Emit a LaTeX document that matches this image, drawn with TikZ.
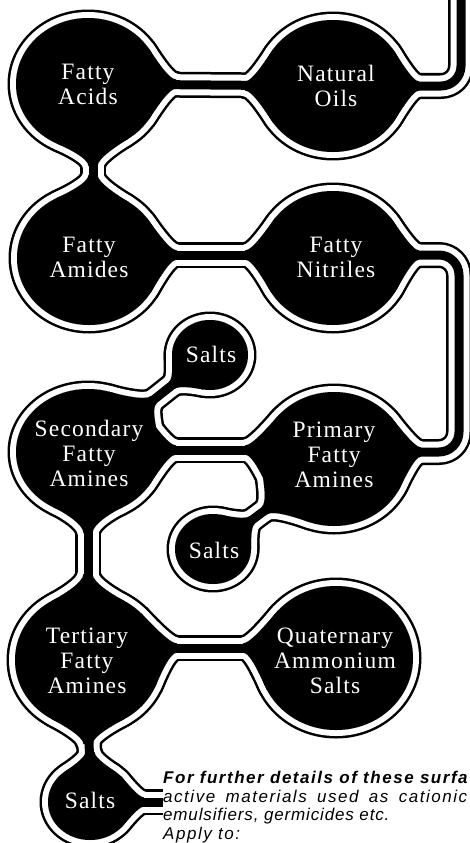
\documentclass[tikz,border=0pt]{standalone}
\usepackage{fontspec}
\setmainfont{Liberation Serif}
\newfontfamily\lblfont[LetterSpace=5]{Liberation Serif}
\newfontfamily\notefont[LetterSpace=9]{Liberation Sans}
\def\fh{4.5}
% flare: cx cy rx ry phi e delta k
\newcommand\flare[8]{%
\pgfmathsetmacro\fdz{(#3)*(#4)/sqrt(((#4)*cos(#5))^2+((#3)*sin(#5))^2)}%
\pgfmathsetmacro\fbe{atan((#6)/\fdz)}%
\pgfmathsetmacro\fpa{(#5)+\fbe+(#7)}%
\pgfmathsetmacro\fpb{(#5)+\fbe-(#7)}%
\pgfmathsetmacro\fra{(#3)*(#4)/sqrt(((#4)*cos(\fpa))^2+((#3)*sin(\fpa))^2)}%
\pgfmathsetmacro\frb{(#3)*(#4)/sqrt(((#4)*cos(\fpb))^2+((#3)*sin(\fpb))^2)}%
\pgfmathsetmacro\fax{\fra*cos(\fpa)}%
\pgfmathsetmacro\fay{\fra*sin(\fpa)}%
\pgfmathsetmacro\fbx{\frb*cos(\fpb)}%
\pgfmathsetmacro\fby{\frb*sin(\fpb)}%
\pgfmathsetmacro\ftax{0-(#3)*(\fay)/(#4)}%
\pgfmathsetmacro\ftay{(#4)*(\fax)/(#3)}%
\pgfmathsetmacro\ftan{sqrt((\ftax)^2+(\ftay)^2)}%
\pgfmathsetmacro\ftbx{0-(#3)*(\fby)/(#4)}%
\pgfmathsetmacro\ftby{(#4)*(\fbx)/(#3)}%
\pgfmathsetmacro\ftbn{sqrt((\ftbx)^2+(\ftby)^2)}%
\pgfmathsetmacro\fdo{0.6*(#8)}%
\pgfmathsetmacro\fdt{0.5*(#8)}%
\pgfmathsetmacro\fAx{(#1)+\fax}%
\pgfmathsetmacro\fAy{(#2)+\fay}%
\pgfmathsetmacro\fBx{(#1)+\fbx}%
\pgfmathsetmacro\fBy{(#2)+\fby}%
\pgfmathsetmacro\fCAx{\fAx-\fdo*(\ftax)/\ftan}%
\pgfmathsetmacro\fCAy{\fAy-\fdo*(\ftay)/\ftan}%
\pgfmathsetmacro\fCBx{\fBx+\fdo*(\ftbx)/\ftbn}%
\pgfmathsetmacro\fCBy{\fBy+\fdo*(\ftby)/\ftbn}%
\pgfmathsetmacro\fux{cos(#5)}%
\pgfmathsetmacro\fuy{sin(#5)}%
\pgfmathsetmacro\fQx{(#1)+(\fdz+(#8))*\fux}%
\pgfmathsetmacro\fQy{(#2)+(\fdz+(#8))*\fuy}%
\pgfmathsetmacro\fQAx{\fQx-((#6)+\fh)*\fuy}%
\pgfmathsetmacro\fQAy{\fQy+((#6)+\fh)*\fux}%
\pgfmathsetmacro\fQBx{\fQx-((#6)-\fh)*\fuy}%
\pgfmathsetmacro\fQBy{\fQy+((#6)-\fh)*\fux}%
\pgfmathsetmacro\fKAx{\fQAx-\fdt*\fux}%
\pgfmathsetmacro\fKAy{\fQAy-\fdt*\fuy}%
\pgfmathsetmacro\fKBx{\fQBx-\fdt*\fux}%
\pgfmathsetmacro\fKBy{\fQBy-\fdt*\fuy}%
\path[area] (#1,#2) -- (\fAx,\fAy) .. controls (\fCAx,\fCAy) and (\fKAx,\fKAy) .. (\fQAx,\fQAy) -- (\fQBx,\fQBy) .. controls (\fKBx,\fKBy) and (\fCBx,\fCBy) .. (\fBx,\fBy) -- cycle;%
}
\newcommand\drawall[3]{%
\tikzset{area/.style={fill=#1,draw=#1,line width=#2,line join=round},
         pipe/.style={draw=#1,line width=#3,line join=round,line cap=butt}}%
% bubbles
\path[area] (FA) ellipse [x radius=72pt,y radius=66pt];
\path[area] (NO) ellipse [x radius=72pt,y radius=66pt];
\path[area] (AM) ellipse [x radius=72pt,y radius=67pt];
\path[area] (NI) ellipse [x radius=72pt,y radius=67pt];
\path[area] (SE) ellipse [x radius=72pt,y radius=63pt];
\path[area] (PR) ellipse [x radius=73pt,y radius=67pt];
\path[area] (SU) ellipse [x radius=38pt,y radius=35pt];
\path[area] (SL) ellipse [x radius=38pt,y radius=35pt];
\path[area] (TE) ellipse [x radius=73pt,y radius=68pt];
\path[area] (QU) ellipse [x radius=77pt,y radius=72pt];
\path[area] (SB) ellipse [x radius=42pt,y radius=38pt];
% pipes
\draw[pipe] (FA) -- (NO);
\draw[pipe,rounded corners=20pt] (NO) -- (nr) -- (ntop);
\draw[pipe] (fa3) -- (am3);
\draw[pipe] (am2) -- (ni2);
\draw[pipe,rounded corners=20pt] (ni2) -- (r1) -- (r2) -- (pr2);
\draw[pipe] (se2) -- (pr3);
\draw[pipe] (SU) -- (SE);
\draw[pipe] (SL) -- (PR);
\draw[pipe] (SE) -- (TE);
\draw[pipe] (te2) -- (qu2);
\draw[pipe] (TE) -- (SB);
\draw[pipe] (SB) -- (sbe);
% flares
\flare{88}{84}{72}{66}{0}{0}{32}{16}%
\flare{333}{86}{72}{66}{180}{0}{32}{16}%
\flare{333}{86}{72}{66}{0}{0}{32}{14}%
\flare{88}{84}{72}{66}{90}{-5}{32}{16}%
\flare{89}{258}{72}{67}{270}{4}{32}{16}%
\flare{89}{258}{72}{67}{0}{-3}{32}{16}%
\flare{333}{258}{72}{67}{180}{3}{32}{16}%
\flare{333}{258}{72}{67}{0}{-3}{32}{14}%
\flare{334}{459}{73}{67}{0}{-7}{32}{14}%
\flare{88}{452}{72}{63}{0}{-2}{32}{16}%
\flare{334}{459}{73}{67}{180}{9}{32}{16}%
\flare{210}{355}{38}{35}{141.5}{0}{40}{12}%
\flare{88}{452}{72}{63}{321.5}{0}{32}{16}%
\flare{213}{549}{38}{35}{323.4}{0}{40}{12}%
\flare{334}{459}{73}{67}{143.4}{0}{32}{16}%
\flare{88}{452}{72}{63}{90}{0}{32}{18}%
\flare{88}{660}{73}{68}{270}{0}{32}{18}%
\flare{88}{660}{73}{68}{0}{-12}{32}{16}%
\flare{336}{658}{77}{72}{180}{10}{32}{16}%
\flare{88}{660}{73}{68}{90}{0}{32}{16}%
\flare{90}{802}{42}{38}{270}{0}{40}{12}%
\flare{90}{802}{42}{38}{0}{0}{40}{12}%
}
\begin{document}
\begin{tikzpicture}[x=1pt,y=-1pt,
  lbl/.style={text=white,align=center,inner sep=0pt,font={\lblfont\fontsize{23.5}{25}\selectfont}},
  note/.style={text=black,align=left,inner sep=0pt,font={\notefont\itshape\fontsize{17}{18.7}\selectfont}}]
\useasboundingbox (0,0) rectangle (470,843);
\fill[white] (0,0) rectangle (470,843);
% bubble centres
\coordinate (FA) at (88,84);
\coordinate (NO) at (333,86);
\coordinate (AM) at (89,258);
\coordinate (NI) at (333,258);
\coordinate (SE) at (88,452);
\coordinate (PR) at (334,459);
\coordinate (SU) at (210,355);
\coordinate (SL) at (213,549);
\coordinate (TE) at (88,660);
\coordinate (QU) at (336,658);
\coordinate (SB) at (90,802);
% pipe waypoints
\coordinate (nr) at (461,86);
\coordinate (ntop) at (461,-30);
\coordinate (fa3) at (93,84);
\coordinate (am3) at (93,258);
\coordinate (am2) at (89,255);
\coordinate (ni2) at (333,255);
\coordinate (r1) at (459,255);
\coordinate (r2) at (459,452);
\coordinate (pr2) at (334,452);
\coordinate (se2) at (88,450);
\coordinate (pr3) at (334,450);
\coordinate (te2) at (88,648);
\coordinate (qu2) at (336,648);
\coordinate (sbe) at (163,802);
% three passes: outline, white gap, black core
\drawall{black}{17pt}{26pt}
\drawall{white}{12pt}{21pt}
\drawall{black}{0.01pt}{9pt}
% labels
\node[lbl] (tFA) at (88,84) {Fatty\\Acids};
\node[lbl] (tNO) at (336,86) {Natural\\Oils};
\node[lbl] (tAM) at (89,257) {Fatty\\Amides};
\node[lbl] (tNI) at (336,257) {Fatty\\Nitriles};
\node[lbl] (tSU) at (211,354) {Salts};
\node[lbl] (tSE) at (89,453) {Secondary\\Fatty\\Amines};
\node[lbl] (tPR) at (334,455) {Primary\\Fatty\\Amines};
\node[lbl] (tSL) at (214,550) {Salts};
\node[lbl] (tTE) at (87,661) {Tertiary\\Fatty\\Amines};
\node[lbl] (tQU) at (335,661) {Quaternary\\Ammonium\\Salts};
\node[lbl] (tSB) at (90,800) {Salts};
\node[note,anchor=north west] (txt) at (163,771) {{\bfseries For further details of these surfa}\\\makebox[304pt][s]{active materials used as cationic}\\{\addfontfeature{LetterSpace=5}emulsifiers, germicides etc.}\\Apply to:};
\end{tikzpicture}
\end{document}
